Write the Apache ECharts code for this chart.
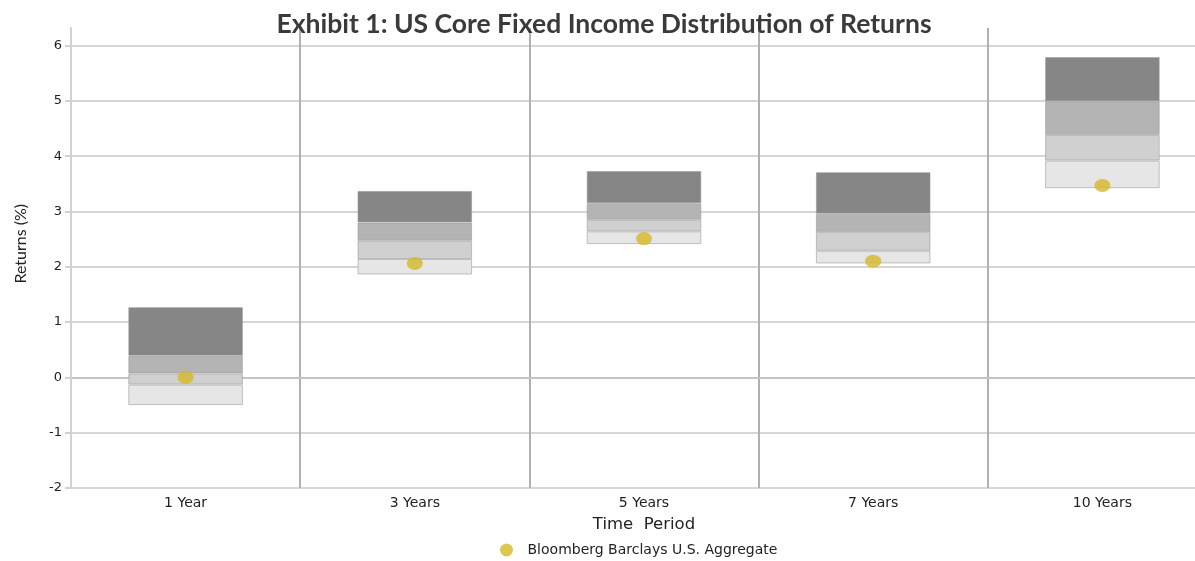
<!DOCTYPE html>
<html>
<head>
<meta charset="utf-8">
<title>Exhibit 1: US Core Fixed Income Distribution of Returns</title>
<script src="https://cdn.jsdelivr.net/npm/echarts@6/dist/echarts.min.js"></script>
<style>
  html, body { margin: 0; padding: 0; background: #fff; }
  #chart { width: 1195px; height: 561px; }
</style>
</head>
<body>
<div id="chart"></div>
<script>
// Time horizons
const categories = ['1 Year', '3 Years', '5 Years', '7 Years', '10 Years'];
// Return distribution bands (%), bottom to top
const pct5  = [-0.50, 1.86, 2.41, 2.06, 3.42];
const pct25 = [-0.13, 2.14, 2.64, 2.29, 3.92];
const pct50 = [ 0.07, 2.47, 2.85, 2.63, 4.38];
const pct75 = [ 0.39, 2.80, 3.15, 2.96, 4.99];
const pct95 = [ 1.27, 3.37, 3.73, 3.71, 5.79];
// Bloomberg Barclays U.S. Aggregate
const aggregate = [0.00, 2.06, 2.51, 2.10, 3.47];
const yTicks = [-2, -1, 0, 1, 2, 3, 4, 5, 6];

const diff = (hi, lo) => hi.map((v, i) => +(v - lo[i]).toFixed(4));
const ellipse = 'path://M0 1A1 1 0 1 0 2 1A1 1 0 1 0 0 1Z';

const bands = [
  { name: '5th-25th',  data: diff(pct25, pct5),  color: '#e6e6e6' },
  { name: '25th-50th', data: diff(pct50, pct25), color: '#d0d0d0' },
  { name: '50th-75th', data: diff(pct75, pct50), color: '#b4b4b4' },
  { name: '75th-95th', data: diff(pct95, pct75), color: '#868686' }
];

const chart = echarts.init(document.getElementById('chart'), null, { renderer: 'canvas' });

// plot frame: the fifth column runs past the right edge of the canvas
const frameLeft = 71;
const frameWidth = 1146;

const option = {
  animation: false,
  backgroundColor: '#fff',
  title: {
    text: 'Exhibit 1: US Core Fixed Income Distribution of Returns',
    left: 599,
    textAlign: 'center',
    top: 6,
    textStyle: { fontFamily: 'Lato', fontWeight: 'bold', fontSize: 26.5, color: '#3a3a3a' }
  },
  legend: {
    data: ['Bloomberg Barclays U.S. Aggregate'],
    top: 538,
    left: 495,
    itemWidth: 16,
    itemHeight: 13,
    icon: ellipse,
    textStyle: { fontFamily: 'DejaVu Sans', fontSize: 14, color: '#222', padding: [0, 0, 0, 8] }
  },
  grid: [
    { left: frameLeft, width: frameWidth, top: 45.5, bottom: 73, outerBoundsMode: 'none' },
    { left: frameLeft, width: frameWidth, top: 28, bottom: 73, outerBoundsMode: 'none' }
  ],
  xAxis: [
    {
      type: 'category',
      gridIndex: 0,
      data: categories,
      name: 'Time  Period',
      nameLocation: 'middle',
      nameGap: 28,
      nameTextStyle: { fontFamily: 'DejaVu Sans', fontSize: 16.5, color: '#222' },
      axisLine: { show: true, lineStyle: { color: '#c4c4c4', width: 2 } },
      axisTick: { show: false },
      axisLabel: { fontFamily: 'DejaVu Sans', fontSize: 14, color: '#222', margin: 8 },
      splitLine: { show: false }
    },
    {
      // column separators running from the top of the frame
      type: 'category',
      gridIndex: 1,
      data: categories,
      axisLine: { show: false },
      axisTick: { show: false },
      axisLabel: { show: false },
      splitLine: { show: true, lineStyle: { color: '#b0b0b0', width: 2 } }
    }
  ],
  yAxis: [
    {
      type: 'value',
      gridIndex: 0,
      min: yTicks[0],
      max: yTicks[yTicks.length - 1],
      interval: 1,
      name: 'Returns (%)',
      nameLocation: 'middle',
      nameGap: 42,
      nameTextStyle: { fontFamily: 'Lato', fontSize: 16, color: '#222', padding: [0, 0, 0, 46] },
      axisLine: { show: false },
      axisTick: { show: true, length: 6, lineStyle: { color: '#c4c4c4', width: 1.5 } },
      axisLabel: { fontFamily: 'DejaVu Sans', fontSize: 13, color: '#222', margin: 9 },
      splitLine: { show: true, lineStyle: { color: '#c8c8c8', width: 1.5 } }
    },
    {
      type: 'value',
      gridIndex: 1,
      min: 0,
      max: 1,
      z: 3,
      axisLine: { show: true, lineStyle: { color: '#d2d2d2', width: 2 } },
      axisTick: { show: false },
      axisLabel: { show: false },
      splitLine: { show: false }
    }
  ],
  series: [
    {
      name: 'base',
      type: 'bar',
      stack: 'dist',
      stackStrategy: 'all',
      barWidth: '50%',
      data: pct5,
      itemStyle: { color: 'transparent' },
      silent: true,
      z: 2
    },
    ...bands.map(b => ({
      name: b.name,
      type: 'bar',
      stack: 'dist',
      stackStrategy: 'all',
      barWidth: '50%',
      data: b.data,
      itemStyle: { color: b.color, borderColor: 'rgba(150,150,150,0.55)', borderWidth: 1 },
      z: 2
    })),
    {
      name: 'Bloomberg Barclays U.S. Aggregate',
      type: 'scatter',
      data: aggregate,
      symbol: ellipse,
      symbolSize: [16, 13],
      itemStyle: { color: '#d4b826' },
      z: 4
    }
  ]
};

chart.setOption(option);
</script>
</body>
</html>
